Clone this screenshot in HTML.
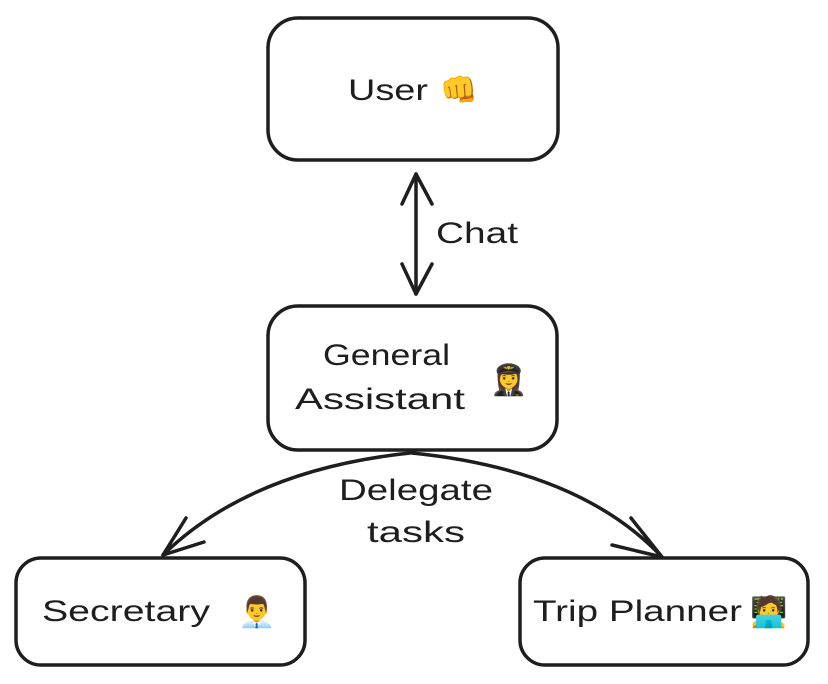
<!DOCTYPE html>
<html><head><meta charset="utf-8"><style>
html,body{margin:0;padding:0;background:#fff;}
svg{display:block;}
text{font-family:"Liberation Sans","DejaVu Sans",sans-serif;fill:#1e1e1e;font-size:30px;}
</style></head><body>
<svg width="828" height="684" viewBox="0 0 828 684" xmlns="http://www.w3.org/2000/svg">
<g fill="none" stroke="#1e1e1e" stroke-width="3.5" stroke-linecap="round" stroke-linejoin="round">
<rect x="268" y="18" width="290" height="142" rx="30"/>
<rect x="268" y="306" width="289" height="144" rx="30"/>
<rect x="16" y="558" width="289" height="107" rx="25"/>
<rect x="520" y="558" width="288" height="107" rx="25"/>
<line x1="416" y1="174" x2="416" y2="294"/>
<polyline points="402,204 416,174 432,204"/>
<polyline points="402,264 416,294 432,264"/>
<path d="M410 453 Q250 470 163 555"/>
<polyline points="186,518 163,555 204,542"/>
<path d="M412 453 Q580 470 662 557"/>
<polyline points="631,518 662,557 612,545"/>
</g>
<text x="348" y="100" textLength="80" lengthAdjust="spacingAndGlyphs">User</text>
<text x="440" y="100">👊</text>
<text x="436" y="243" textLength="82" lengthAdjust="spacingAndGlyphs">Chat</text>
<text x="323" y="365" textLength="127" lengthAdjust="spacingAndGlyphs">General</text>
<text x="295" y="409" textLength="170" lengthAdjust="spacingAndGlyphs">Assistant</text>
<text x="490" y="390">👩‍✈️</text>
<text x="339" y="500" textLength="154" lengthAdjust="spacingAndGlyphs">Delegate</text>
<text x="367" y="542" textLength="98" lengthAdjust="spacingAndGlyphs">tasks</text>
<text x="42" y="621" textLength="168" lengthAdjust="spacingAndGlyphs">Secretary</text>
<text x="238" y="622">👨‍💼</text>
<text x="533" y="621" textLength="209" lengthAdjust="spacingAndGlyphs">Trip Planner</text>
<text x="750" y="622">🧑‍💻</text>
</svg>
</body></html>
